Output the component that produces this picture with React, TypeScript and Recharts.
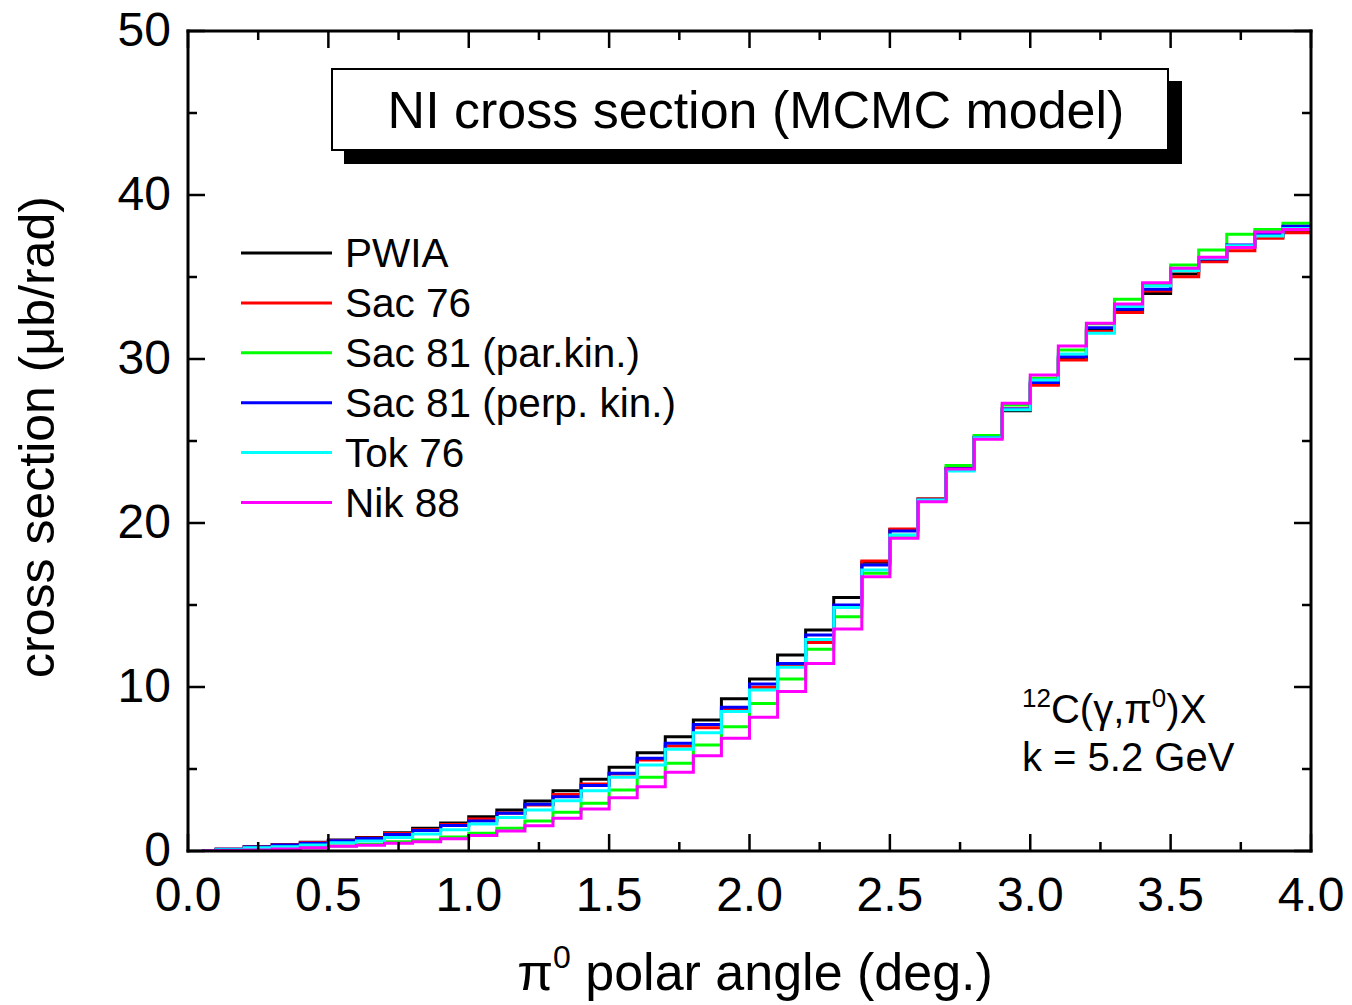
import { LineChart, Line, XAxis, YAxis } from 'recharts';

// bin centres of the 0.1 deg histogram
const ANGLES = [
  0.05, 0.15, 0.25, 0.35, 0.45, 0.55, 0.65, 0.75, 0.85, 0.95,
  1.05, 1.15, 1.25, 1.35, 1.45, 1.55, 1.65, 1.75, 1.85, 1.95,
  2.05, 2.15, 2.25, 2.35, 2.45, 2.55, 2.65, 2.75, 2.85, 2.95,
  3.05, 3.15, 3.25, 3.35, 3.45, 3.55, 3.65, 3.75, 3.85, 3.95,
];
const X_END = 4.0;

const PWIA = [
  0.02, 0.1, 0.26, 0.39, 0.53, 0.67, 0.83, 1.12, 1.38, 1.7,
  2.09, 2.5, 3.05, 3.68, 4.37, 5.1, 5.99, 6.97, 7.99, 9.28,
  10.49, 11.95, 13.48, 15.45, 17.6, 19.6, 21.46, 23.35, 25.25, 26.85,
  28.48, 30.04, 31.75, 32.95, 34.0, 35.18, 36.05, 36.85, 37.45, 37.85,
];
const SAC76 = [
  0.02, 0.1, 0.25, 0.38, 0.52, 0.64, 0.8, 1.06, 1.3, 1.62,
  1.95, 2.32, 2.8, 3.45, 4.09, 4.7, 5.55, 6.4, 7.52, 8.66,
  9.98, 11.35, 12.72, 14.9, 17.68, 19.63, 21.46, 23.25, 25.2, 26.95,
  28.4, 29.94, 31.67, 32.83, 34.15, 35.02, 35.93, 36.6, 37.36, 37.7,
];
const SAC81_PAR = [
  0.01, 0.05, 0.1, 0.15, 0.22, 0.3, 0.41, 0.57, 0.67, 0.85,
  1.08, 1.38, 1.83, 2.36, 2.91, 3.72, 4.49, 5.35, 6.46, 7.58,
  9.0, 10.49, 12.3, 14.29, 16.93, 19.25, 21.35, 23.5, 25.33, 27.2,
  28.82, 30.55, 32.15, 33.64, 34.55, 35.73, 36.65, 37.6, 37.9, 38.27,
];
const SAC81_PERP = [
  0.02, 0.1, 0.24, 0.36, 0.48, 0.62, 0.76, 1.0, 1.25, 1.55,
  1.83, 2.3, 2.85, 3.31, 4.0, 4.74, 5.65, 6.57, 7.72, 8.76,
  10.18, 11.44, 13.17, 15.0, 17.44, 19.51, 21.4, 23.3, 25.22, 26.95,
  28.56, 30.14, 31.9, 33.03, 34.25, 35.4, 36.1, 36.95, 37.6, 38.1,
];
const TOK76 = [
  0.02, 0.08, 0.2, 0.26, 0.37, 0.51, 0.61, 0.83, 1.04, 1.3,
  1.65, 2.05, 2.5, 3.07, 3.68, 4.49, 5.24, 6.2, 7.21, 8.5,
  9.82, 11.2, 12.9, 14.84, 17.13, 19.27, 21.4, 23.17, 25.2, 26.9,
  28.72, 30.3, 31.57, 33.2, 34.45, 35.4, 36.15, 36.9, 37.5, 37.95,
];
const NIK88 = [
  0.01, 0.03, 0.06, 0.12, 0.2, 0.29, 0.35, 0.47, 0.57, 0.75,
  0.94, 1.22, 1.54, 1.99, 2.56, 3.25, 3.92, 4.8, 5.81, 6.87,
  8.15, 9.72, 11.44, 13.54, 16.73, 19.07, 21.3, 23.29, 25.1, 27.3,
  29.02, 30.79, 32.18, 33.35, 34.65, 35.53, 36.2, 36.8, 37.74, 37.9,
];

const X_TICKS = [0, 0.25, 0.5, 0.75, 1, 1.25, 1.5, 1.75, 2, 2.25, 2.5, 2.75, 3, 3.25, 3.5, 3.75, 4];
const Y_TICKS = [0, 5, 10, 15, 20, 25, 30, 35, 40, 45, 50];

const SERIES = [
  { key: 'pwia', name: 'PWIA', color: '#000000', values: PWIA },
  { key: 'sac76', name: 'Sac 76', color: '#ff0000', values: SAC76 },
  { key: 'sac81par', name: 'Sac 81 (par.kin.)', color: '#00ff00', values: SAC81_PAR },
  { key: 'sac81perp', name: 'Sac 81 (perp. kin.)', color: '#0000ff', values: SAC81_PERP },
  { key: 'tok76', name: 'Tok 76', color: '#00ffff', values: TOK76 },
  { key: 'nik88', name: 'Nik 88', color: '#ff00ff', values: NIK88 },
];

const rows: Record<string, number>[] = ANGLES.map((x, i) => {
  const row: Record<string, number> = { x };
  SERIES.forEach((s) => (row[s.key] = s.values[i]));
  return row;
});
// last bin runs on to the right edge
const closing: Record<string, number> = { x: X_END };
SERIES.forEach((s) => (closing[s.key] = s.values[s.values.length - 1]));
const data = [...rows, closing];

const FONT = '"Liberation Sans", Arial, sans-serif';
const MAJOR = 17;
const MINOR = 9;

const isMajorX = (v: number) => Math.abs(v * 2 - Math.round(v * 2)) < 1e-6;
const isMajorY = (v: number) => Math.abs(v / 10 - Math.round(v / 10)) < 1e-6;

function BottomTick({ x, y, payload }: any) {
  const v = payload.value;
  const major = isMajorX(v);
  return (
    <g>
      <line x1={x} y1={y} x2={x} y2={y - (major ? MAJOR : MINOR)} stroke="#000" strokeWidth={2.5} />
      {major && (
        <text x={x} y={y + 60} textAnchor="middle" fontSize={48} fontFamily={FONT} fill="#000">
          {v.toFixed(1)}
        </text>
      )}
    </g>
  );
}

function TopTick({ x, y, payload }: any) {
  const major = isMajorX(payload.value);
  return <line x1={x} y1={y} x2={x} y2={y + (major ? MAJOR : MINOR)} stroke="#000" strokeWidth={2.5} />;
}

function LeftTick({ x, y, payload }: any) {
  const v = payload.value;
  const major = isMajorY(v);
  return (
    <g>
      <line x1={x} y1={y} x2={x + (major ? MAJOR : MINOR)} y2={y} stroke="#000" strokeWidth={2.5} />
      {major && (
        <text x={x - 17} y={y} dy="0.32em" textAnchor="end" fontSize={48} fontFamily={FONT} fill="#000">
          {v}
        </text>
      )}
    </g>
  );
}

function RightTick({ x, y, payload }: any) {
  const major = isMajorY(payload.value);
  return <line x1={x} y1={y} x2={x - (major ? MAJOR : MINOR)} y2={y} stroke="#000" strokeWidth={2.5} />;
}

const frame = { stroke: '#000', strokeWidth: 3, strokeLinecap: 'square' as const };

export default function App() {
  return (
    <div style={{ position: 'absolute', left: 0, top: 0, width: 1352, height: 1005, background: '#fff', fontFamily: FONT }}>
      <LineChart width={1352} height={1005} data={data} margin={{ top: 30, right: 40, bottom: 153, left: 187 }}>
        <XAxis
          xAxisId="bottom"
          dataKey="x"
          type="number"
          domain={[0, 4]}
          ticks={X_TICKS}
          interval={0}
          allowDataOverflow
          height={1}
          tickSize={0}
          tickMargin={0}
          axisLine={frame}
          tick={<BottomTick />}
        />
        <XAxis
          xAxisId="top"
          orientation="top"
          dataKey="x"
          type="number"
          domain={[0, 4]}
          ticks={X_TICKS}
          interval={0}
          allowDataOverflow
          height={1}
          tickSize={0}
          tickMargin={0}
          axisLine={frame}
          tick={<TopTick />}
        />
        <YAxis
          yAxisId="left"
          type="number"
          domain={[0, 50]}
          ticks={Y_TICKS}
          interval={0}
          allowDataOverflow
          width={1}
          tickSize={0}
          tickMargin={0}
          axisLine={frame}
          tick={<LeftTick />}
        />
        <YAxis
          yAxisId="right"
          orientation="right"
          type="number"
          domain={[0, 50]}
          ticks={Y_TICKS}
          interval={0}
          allowDataOverflow
          width={1}
          tickSize={0}
          tickMargin={0}
          axisLine={frame}
          tick={<RightTick />}
        />
        {SERIES.map((s) => (
          <Line
            key={s.key}
            xAxisId="bottom"
            yAxisId="left"
            type="step"
            dataKey={s.key}
            name={s.name}
            stroke={s.color}
            strokeWidth={3}
            dot={false}
            activeDot={false}
            isAnimationActive={false}
          />
        ))}
      </LineChart>

      <svg
        width={1352}
        height={1005}
        style={{ position: 'absolute', left: 0, top: 0, pointerEvents: 'none' }}
        fontFamily={FONT}
      >
        {/* title box with drop shadow */}
        <rect x={344} y={81} width={838} height={83} fill="#000" />
        <rect x={332} y={69} width={836} height={81} fill="#fff" stroke="#000" strokeWidth={2} />
        <text x={756} y={128} textAnchor="middle" fontSize={52} fill="#000">
          NI cross section (MCMC model)
        </text>

        {/* legend */}
        {SERIES.map((s, i) => {
          const ly = 253 + i * 49.9;
          return (
            <g key={s.key}>
              <line x1={241} y1={ly} x2={332} y2={ly} stroke={s.color} strokeWidth={3} />
              <text x={345} y={ly + 14} fontSize={40.5} fill="#000">
                {s.name}
              </text>
            </g>
          );
        })}

        {/* reaction annotation */}
        <text x={1022} y={723} fontSize={40} fill="#000">
          <tspan fontSize={26} dy={-16}>12</tspan>
          <tspan dy={16}>C(γ,π</tspan>
          <tspan fontSize={26} dy={-16}>0</tspan>
          <tspan dy={16}>)X</tspan>
        </text>
        <text x={1022} y={771} fontSize={40} fill="#000">
          k = 5.2 GeV
        </text>

        {/* axis titles */}
        <text x={755} y={990} textAnchor="middle" fontSize={52} fill="#000">
          π<tspan fontSize={32} dy={-22}>0</tspan>
          <tspan dy={22}> polar angle (deg.)</tspan>
        </text>
        <text
          x={0}
          y={0}
          transform="translate(54 437) rotate(-90)"
          textAnchor="middle"
          fontSize={50}
          fill="#000"
        >
          cross section (μb/rad)
        </text>
      </svg>
    </div>
  );
}
